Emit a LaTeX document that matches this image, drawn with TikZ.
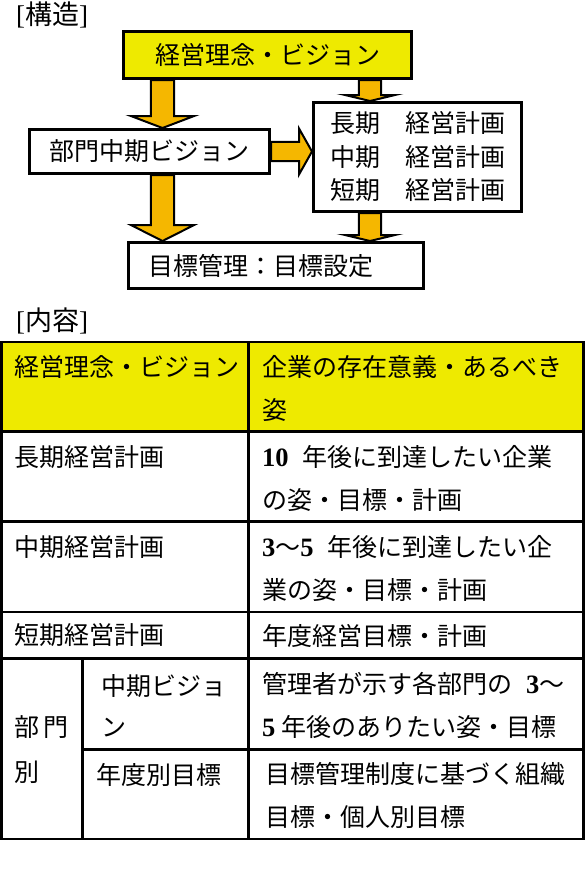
\documentclass[tikz,border=0pt]{standalone}
\usepackage{fontspec}
\setmainfont{Liberation Serif}
\newfontfamily\jp{Noto Sans CJK JP}
\usepackage{tikz}
\usetikzlibrary{calc}

\definecolor{visionyellow}{RGB}{238,234,0}
\definecolor{arrowfill}{RGB}{245,183,0}
\newcommand{\dg}[1]{{\rmfamily\bfseries\fontsize{26.5}{43}\selectfont #1}}

\begin{document}
\begin{tikzpicture}[
	x=1pt, y=-1pt,
	every node/.style={inner sep=0pt, font=\jp\fontsize{25}{43}\selectfont},
	box/.style={draw, line width=2.6pt},
	cell/.style={anchor=west, align=left},
	rule/.style={line width=2.6pt},
	heading/.style={anchor=west, font=\jp\fontsize{27}{30}\selectfont},
	fat arrow/.style n args={3}{
		draw, line width=2pt, fill=arrowfill, line join=miter,
		to path={
			($(\tikztotarget)!#3!(\tikztostart)$) coordinate (fa head)
			($(\tikztostart)!#1!90:(\tikztotarget)$)
			-- ($(fa head)!#1!90:(\tikztotarget)$)
			-- ($(fa head)!#2!90:(\tikztotarget)$)
			-- (\tikztotarget)
			-- ($(fa head)!#2!-90:(\tikztotarget)$)
			-- ($(fa head)!#1!-90:(\tikztotarget)$)
			-- ($(\tikztostart)!#1!-90:(\tikztotarget)$)
			-- cycle}
	}
	]
	
	\useasboundingbox (0,0) rectangle (585,881);
	
	\node[heading] (t1) at (16,15) {{\rmfamily[}構造{\rmfamily]}};
	\node[heading] (t2) at (16,321) {{\rmfamily[}内容{\rmfamily]}};
	
	% Structure
	\node[box, fill=visionyellow, minimum width=288.4pt, minimum height=47.4pt]
	(top) at (267.5,55) {経営理念・ビジョン};
	\node[box, minimum width=240.4pt, minimum height=44.4pt]
	(mid) at (149.5,151.5) {部門中期ビジョン};
	\node[box, align=center, minimum width=208.4pt, minimum height=109.4pt,
	font=\jp\fontsize{25}{33.5}\selectfont]
	(plan) at (417.5,157) {長期　経営計画\\中期　経営計画\\短期　経営計画};
	\node[box, align=left, text width=256pt, inner xsep=19.7pt, minimum height=46.4pt]
	(goal) at (276,265.5) {目標管理：目標設定};
	
	\coordinate (a1) at ([xshift=13pt]mid.north);
	\coordinate (a2) at ([xshift=-47.5pt]plan.north);
	
	\draw[fat arrow={11.6pt}{31.6pt}{12pt}] (top.south -| a1) to (a1);
	\draw[fat arrow={11.6pt}{31.6pt}{16pt}] (mid.south -| a1) to (goal.north -| a1);
	\draw[fat arrow={11.1pt}{25pt}{6pt}] (top.south -| a2) to (a2);
	\draw[fat arrow={11.1pt}{25pt}{6pt}] (plan.south -| a2) to (goal.north -| a2);
	\draw[fat arrow={9.6pt}{23pt}{13pt}] (mid.east) to (mid.east -| plan.west);
	
	% Contents table
	\fill[visionyellow] (1.7,342) rectangle (583.3,431.5);
	\draw[rule] (1.7,342) rectangle (583.3,839);
	\foreach \y in {431.5,521.5,612,658.5}
	\draw[rule] (1.7,\y) -- (583.3,\y);
	\draw[rule] (82.5,749.5) -- (583.3,749.5);
	\draw[rule] (248.3,342) -- (248.3,839);
	\draw[rule] (82.5,658.5) -- (82.5,839);
	
	\node[cell] (c11) at (14,367) {経営理念・ビジョン};
	\node[cell] (c21) at (14,457) {長期経営計画};
	\node[cell] (c31) at (14,547) {中期経営計画};
	\node[cell] (c41) at (14,635) {短期経営計画};
	\node[cell, font=\jp\fontsize{25}{45}\selectfont] (c51) at (14,749.5) {部\kern4pt 門\\別};
	\node[cell, font=\jp\fontsize{25}{41}\selectfont] (c52) at (101,705.5) {中期ビジョ\\ン};
	\node[cell] (c62) at (96,775) {年度別目標};
	
	\node[cell] (c12) at (262,388.5) {企業の存在意義・あるべき\\姿};
	\node[cell] (c22) at (262,478.5) {\dg{10}\hspace{14pt}年後に到達したい企業\\の姿・目標・計画};
	\node[cell] (c32) at (262,568) {\dg{3}〜\dg{5}\hspace{14pt}年後に到達したい企\\業の姿・目標・計画};
	\node[cell] (c42) at (262,636) {年度経営目標・計画};
	\node[cell] (c52r) at (262,705) {管理者が示す各部門の\hspace{14pt}\dg{3}〜\\\dg{5}\hspace{6pt}年後のありたい姿・目標};
	\node[cell] (c62r) at (265,795) {目標管理制度に基づく組織\\目標・個人別目標};
	
\end{tikzpicture}
\end{document}
